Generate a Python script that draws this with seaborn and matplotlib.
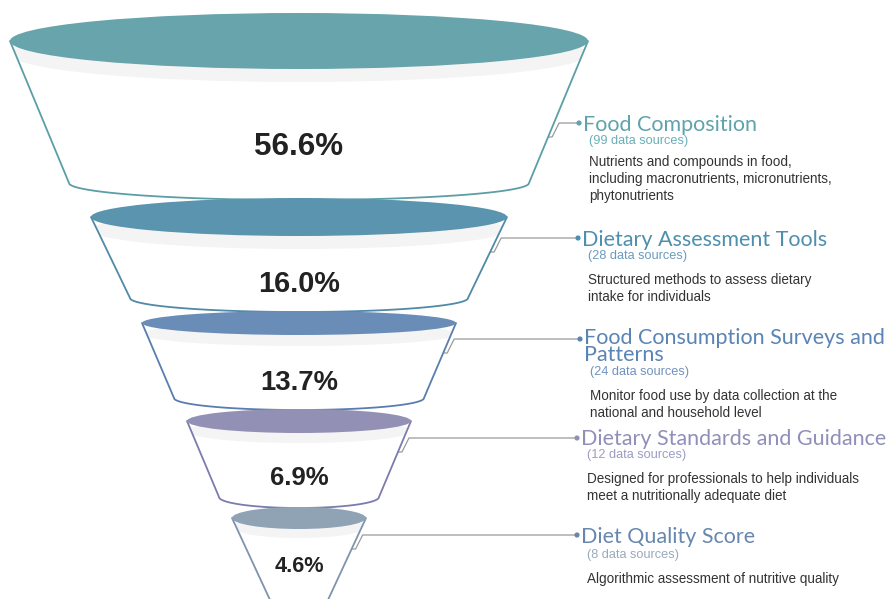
import numpy as np
import pandas as pd
import seaborn as sns
import matplotlib.pyplot as plt
from matplotlib.patches import Ellipse, Polygon

# Funnel data
categories = [
    "Food Composition",
    "Dietary Assessment Tools",
    "Food Consumption Surveys and\nPatterns",
    "Dietary Standards and Guidance",
    "Diet Quality Score",
]
shares = [56.6, 16.0, 13.7, 6.9, 4.6]
sources = [99, 28, 24, 12, 8]
descriptions = [
    "Nutrients and compounds in food,\nincluding macronutrients, micronutrients,\nphytonutrients",
    "Structured methods to assess dietary\nintake for individuals",
    "Monitor food use by data collection at the\nnational and household level",
    "Designed for professionals to help individuals\nmeet a nutritionally adequate diet",
    "Algorithmic assessment of nutritive quality",
]

# Styling / layout (pixels, y downward)
top_colors = ["#67A4AC", "#5A94AE", "#6A8DB8", "#9291B5", "#8FA3B5"]
edge_colors = ["#5B9EA6", "#4F8AA6", "#5A7DB0", "#7C7BAE", "#7F93AE"]
title_colors = ["#5FA3AC", "#4E8FAE", "#5A84B4", "#8F8FBA", "#6787AE"]
sub_colors = ["#6AAFB8", "#6A9BBE", "#6F92C0", "#9C9CC4", "#9AAABD"]

cx = 299
top_cy = [41, 217, 323, 421, 518]
top_hw = [289, 208, 157, 112, 67]
top_hh = [28, 19, 12, 12, 11]
bot_cy = [183, 298, 398, 497, 615]
bot_hw = [230, 169, 125, 80, 22]
bot_hh = [17, 14, 12, 11, 6]
shadow = [13, 13, 11, 10, 9]

pct_y = [147, 284, 383, 478, 566]
pct_size = [22.6, 20.8, 19.8, 18.5, 15.7]

title_y = [123, 238, 339, 438, 535]
bullet_x = [579, 578, 580, 577, 577]
title_base = [131, 246, 344, 445, 543]
sub_base = [144, 259, 375, 458, 558]
desc_base = [166, 284, 400, 483, 583]

sns.set_theme(style="white")
plt.rcParams["font.family"] = ["Liberation Sans", "DejaVu Sans"]

fig = plt.figure(figsize=(8.92, 5.99), dpi=100)
ax = fig.add_axes([0, 0, 1, 1])

t = np.linspace(0, np.pi, 80)

for i in range(len(categories)):
    z = 10 + i * 5
    # cone body: sides plus lower arc of the bottom ellipse
    left = [(cx - top_hw[i], top_cy[i])]
    arc = list(zip(cx - bot_hw[i] * np.cos(t), bot_cy[i] + bot_hh[i] * np.sin(t)))
    right = [(cx + top_hw[i], top_cy[i])]
    outline = left + arc + right
    body = Polygon(outline, closed=True, facecolor="white", edgecolor="none", zorder=z)
    ax.add_patch(body)
    # inner shadow band under the rim
    sh = Ellipse((cx, top_cy[i] + shadow[i]), 2 * top_hw[i], 2 * top_hh[i],
                 facecolor="#F4F4F4", edgecolor="none", zorder=z + 1)
    ax.add_patch(sh)
    sh.set_clip_path(body)
    ox, oy = zip(*outline)
    ax.plot(ox, oy, color=edge_colors[i], lw=1.3, zorder=z + 2, solid_joinstyle="round")
    # top rim
    ax.add_patch(Ellipse((cx, top_cy[i]), 2 * top_hw[i], 2 * top_hh[i],
                         facecolor=top_colors[i], edgecolor="none", zorder=z + 3))
    # percentage
    ax.text(cx, pct_y[i], f"{shares[i]:.1f}%", ha="center", va="center",
            fontsize=pct_size[i], fontweight="bold", color="#222222", zorder=z + 4)

    # leader line
    y_low = title_y[i] + 14
    frac = (y_low - top_cy[i]) / (bot_cy[i] - top_cy[i])
    ex = cx + top_hw[i] + (bot_hw[i] - top_hw[i]) * frac
    ax.plot([ex, ex + 4, ex + 11, bullet_x[i] - 2],
            [y_low, y_low, title_y[i], title_y[i]],
            color="#9A9A9A", lw=0.9, zorder=5)

    # labels (baseline of the last line is anchored)
    n_title = categories[i].count("\n")
    ax.text(bullet_x[i] + 4, title_base[i] + 17 * n_title, categories[i], ha="left",
            va="baseline", fontsize=15.5, family=["Lato", "DejaVu Sans"],
            color=title_colors[i], linespacing=0.8)
    ax.text(bullet_x[i] + 10, sub_base[i], f"({sources[i]} data sources)", ha="left",
            va="baseline", fontsize=9.2, color=sub_colors[i])
    for k, line in enumerate(descriptions[i].split("\n")):
        ax.text(bullet_x[i] + 10, desc_base[i] + 17 * k, line, ha="left", va="baseline",
                fontsize=9.75, color="#333333")

bullets = pd.DataFrame({"x": bullet_x, "y": title_y, "c": categories})
sns.scatterplot(data=bullets, x="x", y="y", hue="c", palette=title_colors, s=14,
                edgecolor="none", legend=False, ax=ax, zorder=6)
ax.set_xlim(0, 892)
ax.set_ylim(599, 0)
ax.axis("off")

fig.savefig("out.png", dpi=100)
